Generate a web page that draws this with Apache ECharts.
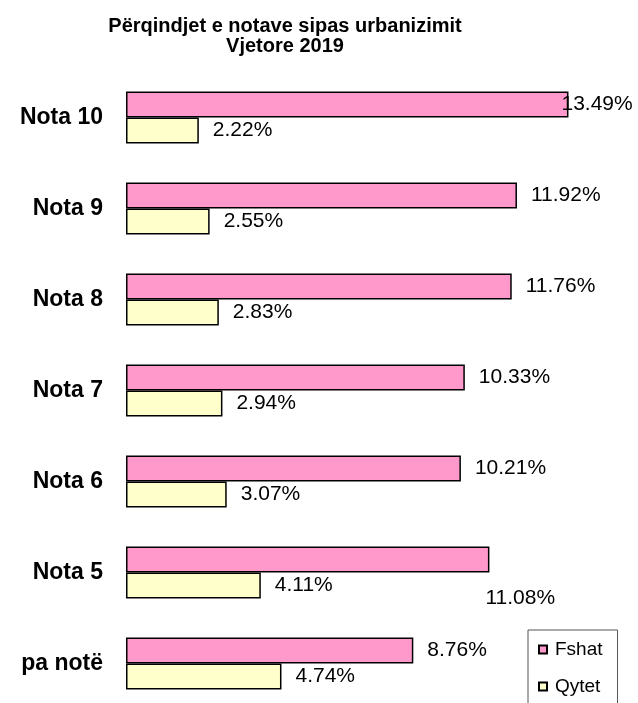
<!DOCTYPE html>
<html>
<head>
<meta charset="utf-8">
<script src="https://cdn.jsdelivr.net/npm/echarts@6/dist/echarts.min.js"></script>
<style>
html, body { margin: 0; padding: 0; background: #fff; }
#chart { width: 638px; height: 703px; }
</style>
</head>
<body>
<div id="chart"></div>
<script>
// te dhenat
var categories = ['Nota 10', 'Nota 9', 'Nota 8', 'Nota 7', 'Nota 6', 'Nota 5', 'pa notë'];
var fshat = [13.49, 11.92, 11.76, 10.33, 10.21, 11.08, 8.76];
var qytet = [2.22, 2.55, 2.83, 2.94, 3.07, 4.11, 4.74];
var seriesNames = ['Fshat', 'Qytet'];

var FONT = 'Arial, "Liberation Sans", sans-serif';

// etiketat e zhvendosura si ne origjinal
function fshatData() {
	return fshat.map(function(v, i) {
		var item = { value: v };
		if (categories[i] == 'Nota 10') {
			item.label = { offset: [-21, 0] };
		}
		if (categories[i] == 'Nota 5') {
			item.label = { offset: [-18, 39] };
		}
		return item;
	});
}

var chart = echarts.init(document.getElementById('chart'));
var option = {
	backgroundColor: '#fff',
	animation: false,
	title: {
		text: 'Përqindjet e notave sipas urbanizimit\nVjetore 2019',
		left: 280,
		textAlign: 'center',
		top: 11,
		textStyle: {
			fontFamily: FONT,
			fontWeight: 'bold',
			fontSize: 20,
			lineHeight: 20,
			color: '#000'
		}
	},
	legend: {
		orient: 'vertical',
		left: 528,
		top: 630,
		height: 100,
		itemWidth: 8,
		itemHeight: 8,
		itemGap: 18,
		icon: 'rect',
		padding: [10, 15, 30, 10],
		borderColor: '#555',
		borderWidth: 1,
		textStyle: { fontFamily: FONT, fontSize: 19, color: '#000', padding: [0, 0, 0, 3] },
		data: seriesNames
	},
	grid: {
		left: 126,
		top: 72,
		width: 492,
		height: 637,
		outerBoundsMode: 'none'
	},
	xAxis: {
		type: 'value',
		min: 0,
		max: 15,
		show: false
	},
	yAxis: {
		type: 'category',
		inverse: true,
		data: categories,
		axisLine: { show: false },
		axisTick: { show: false },
		axisLabel: {
			margin: 23,
			fontFamily: FONT,
			fontWeight: 'bold',
			fontSize: 23,
			color: '#000'
		}
	},
	series: [
		{
			name: seriesNames[0],
			type: 'bar',
			barWidth: 26,
			barGap: '0%',
			data: fshatData(),
			itemStyle: { color: '#FF99CC', borderColor: '#000', borderWidth: 1.5 },
			label: {
				show: true,
				position: 'right',
				distance: 14,
				fontFamily: FONT,
				fontSize: 21,
				color: '#000',
				formatter: function(p) { return p.value.toFixed(2) + '%'; }
			}
		},
		{
			name: seriesNames[1],
			type: 'bar',
			barWidth: 26,
			data: qytet,
			itemStyle: { color: '#FFFFCC', borderColor: '#000', borderWidth: 1.5 },
			label: {
				show: true,
				position: 'right',
				distance: 14,
				fontFamily: FONT,
				fontSize: 21,
				color: '#000',
				formatter: function(p) { return p.value.toFixed(2) + '%'; }
			}
		}
	]
};
chart.setOption(option);
</script>
</body>
</html>
